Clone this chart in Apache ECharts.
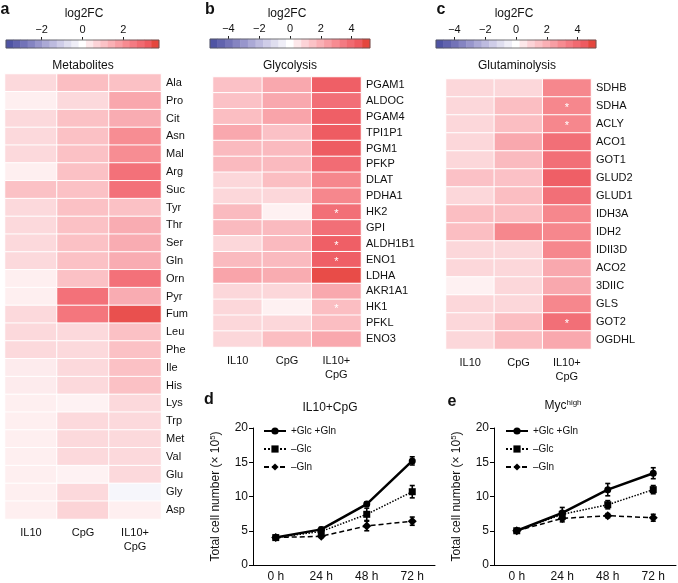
<!DOCTYPE html>
<html><head><meta charset="utf-8">
<script src="https://cdn.jsdelivr.net/npm/echarts@6/dist/echarts.min.js"></script>
<style>html,body{margin:0;padding:0;background:#fff}#c{width:678px;height:583px}</style>
</head><body><div id="c"></div><script>
// ---------- data ----------
const conditions = ['IL10', 'CpG', 'IL10+\nCpG'];

const metabolites = ['Ala','Pro','Cit','Asn','Mal','Arg','Suc','Tyr','Thr','Ser','Gln','Orn','Pyr','Fum','Leu','Phe','Ile','His','Lys','Trp','Met','Val','Glu','Gly','Asp'];
const metIL10 = [0.6,0.25,0.6,0.6,0.6,0.25,1.1,0.6,0.6,0.6,0.6,0.25,0.25,0.6,0.6,0.6,0.3,0.3,0.25,0.25,0.25,0.25,0.25,0.25,0.25];
const metCpG  = [1.15,0.6,1.1,1.1,1.1,1.1,1.1,1.1,1.1,1.1,1.1,1.1,2.7,2.6,0.6,0.6,0.6,0.6,0.2,0.6,0.6,0.6,0.2,0.6,0.7];
const metBoth = [1.1,1.6,1.5,2.1,2.1,2.7,2.7,1.1,1.5,1.5,1.5,2.7,1.5,3.4,1.1,1.1,1.1,1.1,0.6,0.6,0.6,0.6,0.6,-0.2,0.25];

const glyGenes = ['PGAM1','ALDOC','PGAM4','TPI1P1','PGM1','PFKP','DLAT','PDHA1','HK2','GPI','ALDH1B1','ENO1','LDHA','AKR1A1','HK1','PFKL','ENO3'];
const glyIL10 = [1.5,1.5,1.6,2.2,1.7,1.7,0.9,0.9,1.7,1.7,0.9,1.7,2.3,0.9,0.9,0.9,0.9];
const glyCpG  = [2.2,2.2,2.3,1.5,1.7,1.7,1.6,0.9,0.3,1.7,1.7,1.7,2.1,0.9,0.3,0.9,1.6];
const glyBoth = [4.3,3.8,4.3,4.4,4.4,3.9,3.1,3.1,3.8,3.8,4.3,4.3,4.8,2.2,1.6,1.6,2.2];
const glyStars = ['HK2','ALDH1B1','ENO1','HK1'];

const gluGenes = ['SDHB','SDHA','ACLY','ACO1','GOT1','GLUD2','GLUD1','IDH3A','IDH2','IDII3D','ACO2','3DIIC','GLS','GOT2','OGDHL'];
const gluIL10 = [0.9,0.9,0.9,0.9,0.9,1.5,0.9,1.6,1.6,0.9,0.9,0.3,0.9,0.9,0.9];
const gluCpG  = [0.9,1.6,1.6,2.2,1.7,1.5,1.6,1.6,3.1,0.9,0.9,0.9,0.9,1.6,1.6];
const gluBoth = [3.1,3.1,3.1,3.8,3.8,4.3,3.8,3.1,3.1,3.1,2.2,2.2,3.1,3.8,2.2];
const gluStars = ['SDHA','ACLY','GOT2'];

const scaleA = 3.75;           // colour-bar half range, panel a
const scaleBC = 5.2;           // colour-bar half range, panels b, c
const ticksA = [-2, 0, 2];
const ticksBC = [-4, -2, 0, 2, 4];

const timepoints = ['0 h', '24 h', '48 h', '72 h'];
const seriesNames = ['+Glc +Gln', '\u2013Glc', '\u2013Gln'];
// panel d: IL10+CpG
const dFull = [4.0, 5.2, 8.9, 15.2];   const dFullErr = [0.1, 0.3, 0.3, 0.6];
const dNoGlc = [4.0, 4.9, 7.4, 10.7];  const dNoGlcErr = [0.1, 0.2, 0.9, 0.9];
const dNoGln = [4.0, 4.2, 5.7, 6.4];   const dNoGlnErr = [0.1, 0.2, 0.7, 0.6];
// panel e: Myc high
const eFull = [5.0, 7.6, 11.0, 13.4];  const eFullErr = [0.1, 0.8, 0.9, 0.8];
const eNoGlc = [5.0, 7.4, 8.8, 11.0];  const eNoGlcErr = [0.1, 0.4, 0.6, 0.6];
const eNoGln = [5.0, 6.8, 7.2, 6.9];   const eNoGlnErr = [0.1, 0.5, 0.3, 0.5];

// ---------- styling ----------
const FONT = '"Liberation Sans", Arial, Helvetica, sans-serif';
const palette = ['#464d9f','#6163ae','#7c7bbd','#9896cc','#b4b2db','#cfcde8','#e7e6f3','#ffffff',
                 '#fcdcdf','#fbc2c6','#f9a7ad','#f78b91','#f3727a','#ee5a60','#e03c2c'];
const NBLOCK = 21;

function heatData(rows, cols, stars) {
  const out = [];
  rows.forEach((r, j) => {
    cols.forEach((arr, i) => {
      const item = { value: [i, j, arr[j]] };
      if (i === 2 && stars && stars.indexOf(r) >= 0) {
        item.label = { show: true, formatter: '*', color: '#fff', fontSize: 11, offset: [0, 2] };
      }
      out.push(item);
    });
  });
  return out;
}
function barData(M) {
  const d = [];
  for (let i = 0; i < NBLOCK; i++) d.push([i, 0, -M + (i + 0.5) * 2 * M / NBLOCK]);
  return d;
}
const blockCats = Array.from({ length: NBLOCK }, (_, i) => String(i));
const minus = v => String(v).replace('-', '\u2212');

const heatGrids = [
  { left: 5, top: 74, width: 156, height: 445 },
  { left: 213, top: 77, width: 148, height: 270 },
  { left: 446, top: 79, width: 145, height: 270 }
];
const barGrids = [
  { left: 6, top: 40, width: 153, height: 8 },
  { left: 210, top: 39, width: 160, height: 9 },
  { left: 436, top: 40, width: 160, height: 8 }
];
const lineGrids = [
  { left: 253, top: 428, width: 182, height: 137 },
  { left: 494, top: 428, width: 182, height: 137 }
];
const grids = [...heatGrids, ...barGrids.map(g => Object.assign({ show: true, borderColor: '#555', borderWidth: 0.8, backgroundColor: 'transparent', z: 5 }, g)), ...lineGrids];

const heatX = i => ({
  type: 'category', gridIndex: i, data: conditions,
  axisLine: { show: false }, axisTick: { show: false }, splitLine: { show: false },
  axisLabel: { color: '#111', fontSize: 11, margin: 7, lineHeight: 14, fontFamily: FONT }
});
const heatY = (i, rows) => ({
  type: 'category', gridIndex: i, data: rows, inverse: true, position: 'right',
  axisLine: { show: false }, axisTick: { show: false }, splitLine: { show: false },
  axisLabel: { color: '#111', fontSize: 11, margin: 5, fontFamily: FONT }
});
const barCatX = i => ({ type: 'category', gridIndex: i, data: blockCats, show: false });
const barValX = (i, M, ticks) => ({
  type: 'value', gridIndex: i, min: -M, max: M, position: 'top',
  axisLine: { show: false }, splitLine: { show: false },
  axisTick: { show: true, length: 3, customValues: ticks, lineStyle: { color: '#222', width: 1 } },
  axisLabel: { customValues: ticks, formatter: minus, color: '#111', fontSize: 11, margin: 5, fontFamily: FONT }
});
const barY = i => ({ type: 'category', gridIndex: i, data: ['0'], show: false });
const lineX = i => ({
  type: 'category', gridIndex: i, data: timepoints, boundaryGap: true,
  axisLine: { lineStyle: { color: '#000', width: 1 } },
  axisTick: { show: false },
  axisLabel: { color: '#111', fontSize: 12, margin: 6, fontFamily: FONT }
});
const lineY = i => ({
  type: 'value', gridIndex: i, min: 0, max: 20, interval: 5,
  name: 'Total cell number (\u00d7 10{sup|5})', nameLocation: 'middle', nameGap: 30, nameRotate: 90,
  nameTextStyle: { color: '#111', fontSize: 12, fontFamily: FONT,
    rich: { sup: { fontSize: 8, verticalAlign: 'top', padding: [0, 0, 6, 0], color: '#111', fontFamily: FONT } } },
  axisLine: { show: true, lineStyle: { color: '#000', width: 1 } },
  axisTick: { show: true, length: 4, lineStyle: { color: '#000' } },
  splitLine: { show: false },
  axisLabel: { color: '#111', fontSize: 12, margin: 5, fontFamily: FONT }
});

const lineStyles = [
  { symbol: 'circle', symbolSize: 7, lineStyle: { type: 'solid', width: 2.5, color: '#000' } },
  { symbol: 'rect', symbolSize: 7, lineStyle: { type: 'dotted', width: 1.5, color: '#000' } },
  { symbol: 'diamond', symbolSize: 9, lineStyle: { type: [5, 3], width: 1.5, color: '#000' } }
];
function lineSeries(k, xi, yi, vals) {
  return Object.assign({
    type: 'line', name: seriesNames[k], xAxisIndex: xi, yAxisIndex: yi, data: vals,
    itemStyle: { color: '#000' }, z: 3, emphasis: { disabled: true }
  }, lineStyles[k]);
}
function errSeries(xi, yi, vals, errs) {
  return {
    type: 'custom', xAxisIndex: xi, yAxisIndex: yi, z: 4,
    data: vals.map((v, i) => [i, v - errs[i], v + errs[i]]),
    renderItem: (params, api) => {
      const lo = api.coord([api.value(0), api.value(1)]);
      const hi = api.coord([api.value(0), api.value(2)]);
      const w = 2.5, st = { stroke: '#000', lineWidth: 1.6 };
      return { type: 'group', children: [
        { type: 'line', shape: { x1: lo[0], y1: lo[1], x2: hi[0], y2: hi[1] }, style: st },
        { type: 'line', shape: { x1: lo[0] - w, y1: lo[1], x2: lo[0] + w, y2: lo[1] }, style: st },
        { type: 'line', shape: { x1: hi[0] - w, y1: hi[1], x2: hi[0] + w, y2: hi[1] }, style: st }
      ] };
    }
  };
}
const heatSeries = (i, rows, cols, stars) => ({
  type: 'heatmap', xAxisIndex: i, yAxisIndex: i, data: heatData(rows, cols, stars),
  itemStyle: { borderColor: '#fff', borderWidth: 1 }, emphasis: { disabled: true }
});
const barSeries = (gi, xi, M) => ({
  type: 'heatmap', xAxisIndex: xi, yAxisIndex: gi, data: barData(M),
  itemStyle: { borderWidth: 0 }, emphasis: { disabled: true }
});

function txt(text, x, y, size, weight, rich) {
  return { type: 'text', x: x, y: y, style: { text: text, fontSize: size, fontWeight: weight || 'normal',
    fontFamily: FONT, fill: '#111', align: 'center', verticalAlign: 'middle', rich: rich } };
}
const supRich = { sup: { fontSize: 8, padding: [0, 0, 7, 0], fill: '#111', fontFamily: FONT } };

const option = {
  animation: false,
  backgroundColor: '#fff',
  textStyle: { fontFamily: FONT },
  grid: grids,
  xAxis: [heatX(0), heatX(1), heatX(2), barCatX(3), barCatX(4), barCatX(5),
          barValX(3, scaleA, ticksA), barValX(4, scaleBC, ticksBC), barValX(5, scaleBC, ticksBC),
          lineX(6), lineX(7)],
  yAxis: [heatY(0, metabolites), heatY(1, glyGenes), heatY(2, gluGenes), barY(3), barY(4), barY(5), lineY(6), lineY(7)],
  visualMap: [
    { type: 'continuous', show: false, min: -scaleA, max: scaleA, seriesIndex: [0, 3], inRange: { color: palette } },
    { type: 'continuous', show: false, min: -scaleBC, max: scaleBC, seriesIndex: [1, 2, 4, 5], inRange: { color: palette } }
  ],
  legend: [
    { data: seriesNames, orient: 'vertical', left: 258, top: 421, itemWidth: 22, itemHeight: 9, itemGap: 8,
      selectedMode: false, textStyle: { fontSize: 10, color: '#111', fontFamily: FONT } },
    { data: seriesNames, orient: 'vertical', left: 500, top: 421, itemWidth: 22, itemHeight: 9, itemGap: 8,
      selectedMode: false, textStyle: { fontSize: 10, color: '#111', fontFamily: FONT } }
  ],
  series: [
    heatSeries(0, metabolites, [metIL10, metCpG, metBoth], null),
    heatSeries(1, glyGenes, [glyIL10, glyCpG, glyBoth], glyStars),
    heatSeries(2, gluGenes, [gluIL10, gluCpG, gluBoth], gluStars),
    barSeries(3, 3, scaleA), barSeries(4, 4, scaleBC), barSeries(5, 5, scaleBC),
    lineSeries(0, 9, 6, dFull), lineSeries(1, 9, 6, dNoGlc), lineSeries(2, 9, 6, dNoGln),
    errSeries(9, 6, dFull, dFullErr), errSeries(9, 6, dNoGlc, dNoGlcErr), errSeries(9, 6, dNoGln, dNoGlnErr),
    lineSeries(0, 10, 7, eFull), lineSeries(1, 10, 7, eNoGlc), lineSeries(2, 10, 7, eNoGln),
    errSeries(10, 7, eFull, eFullErr), errSeries(10, 7, eNoGlc, eNoGlcErr), errSeries(10, 7, eNoGln, eNoGlnErr)
  ],
  graphic: [
    txt('a', 5, 10, 16, 'bold'), txt('b', 210, 10, 16, 'bold'), txt('c', 441, 10, 16, 'bold'),
    txt('d', 209, 400, 16, 'bold'), txt('e', 452, 402, 16, 'bold'),
    txt('log2FC', 84, 14, 12), txt('log2FC', 287, 14, 12), txt('log2FC', 514, 14, 12),
    txt('Metabolites', 83, 66, 12), txt('Glycolysis', 290, 66, 12), txt('Glutaminolysis', 517, 66, 12),
    txt('IL10+CpG', 330, 408, 12), txt('Myc{sup|high}', 563, 406, 12, 'normal', supRich)
  ]
};
const chart = echarts.init(document.getElementById('c'), null, { renderer: 'canvas' });
chart.setOption(option);
</script></body></html>
